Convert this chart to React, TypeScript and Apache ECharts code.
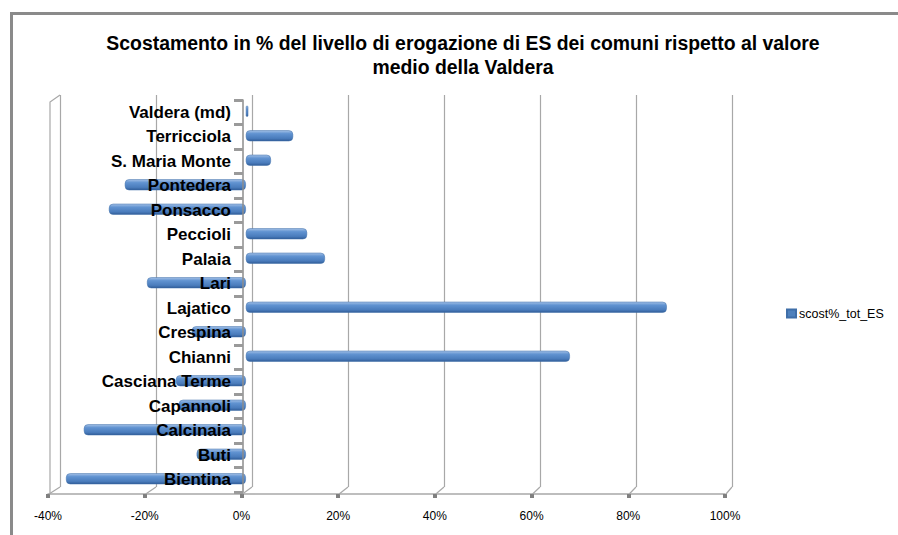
import React, { useEffect, useRef } from "react";
import * as echarts from "echarts";

const categories = [
  "Bientina",
  "Buti",
  "Calcinaia",
  "Capannoli",
  "Casciana Terme",
  "Chianni",
  "Crespina",
  "Lajatico",
  "Lari",
  "Palaia",
  "Peccioli",
  "Ponsacco",
  "Pontedera",
  "S. Maria Monte",
  "Terricciola",
  "Valdera (md)",
];

const scostValues = [
  -37.3, -10.2, -33.6, -13.9, -14.5, 67.2, -11.2, 87.3, -20.5, 16.4, 12.7, -28.4,
  -25.1, 5.2, 9.8, 0.5,
];

const seriesName = "scost%_tot_ES";
const axisTicks = [-40, -20, 0, 20, 40, 60, 80, 100];
const titleText =
  "Scostamento in % del livello di erogazione di ES dei comuni rispetto al valore\nmedio della Valdera";

const FONT = "'Liberation Sans', Arial, Helvetica, sans-serif";

export default function App() {
  const ref = useRef<HTMLDivElement>(null);

  useEffect(() => {
    if (!ref.current) return;
    const chart = echarts.init(ref.current, undefined, { renderer: "svg" });

    const barGradient = new echarts.graphic.LinearGradient(0, 0, 0, 1, [
      { offset: 0, color: "#a3c0e6" },
      { offset: 0.3, color: "#6193d1" },
      { offset: 0.75, color: "#4a7cbc" },
      { offset: 1, color: "#305c97" },
    ]);

    const gridBase = { containLabel: false, outerBoundsMode: "none" };

    const option: any = {
      animation: false,
      backgroundColor: "#ffffff",
      title: {
        text: titleText,
        left: 458,
        textAlign: "center",
        top: 26,
        textStyle: {
          fontFamily: FONT,
          fontSize: 19.4,
          fontWeight: "bold",
          color: "#000000",
          lineHeight: 24,
        },
      },
      legend: {
        left: 781,
        top: 302,
        orient: "vertical",
        icon: "rect",
        itemWidth: 9,
        itemHeight: 8,
        textStyle: { fontFamily: FONT, fontSize: 12.5, color: "#000000", padding: [0, 0, 0, -2] },
        data: [{ name: seriesName, itemStyle: { color: "#4f81bd" } }],
      },
      grid: [
        // bars
        { ...gridBase, left: 53, right: 170, top: 99, height: 392 },
        // back wall (grid lines)
        { ...gridBase, left: 60, right: 166, top: 95, height: 392 },
        // front floor edge (value axis labels)
        { ...gridBase, left: 48, right: 173, top: 102, height: 392 },
        // category axis at zero
        { ...gridBase, left: 243, right: 555, top: 100, height: 392 },
      ],
      xAxis: [
        { gridIndex: 0, type: "value", min: -40, max: 100, interval: 20, show: false },
        {
          gridIndex: 1,
          type: "value",
          min: -40,
          max: 100,
          interval: 20,
          axisLine: { show: false },
          axisTick: { show: false },
          axisLabel: { show: false },
          splitLine: { show: true, lineStyle: { color: "#a8a8a8", width: 1.2 } },
        },
        {
          gridIndex: 2,
          type: "value",
          min: -40,
          max: 100,
          interval: 20,
          axisLine: { show: true, onZero: false, lineStyle: { color: "#a8a8a8", width: 1.5 } },
          axisTick: { show: true, length: 4, lineStyle: { color: "#808080", width: 4 } },
          axisLabel: {
            show: true,
            margin: 16,
            fontFamily: FONT,
            fontSize: 12,
            color: "#000000",
            formatter: "{value}%",
          },
          splitLine: { show: false },
        },
        { gridIndex: 3, type: "value", min: 0, max: 1, show: false },
      ],
      yAxis: [
        { gridIndex: 0, type: "category", data: categories, show: false },
        { gridIndex: 1, type: "value", show: false },
        { gridIndex: 2, type: "value", show: false },
        {
          gridIndex: 3,
          type: "category",
          data: categories,
          z: 10,
          axisLine: { show: true, onZero: false, lineStyle: { color: "#8c8c8c", width: 1.5 } },
          axisTick: { show: true, length: 9, lineStyle: { color: "#9a9a9a", width: 3 } },
          axisLabel: {
            margin: 12,
            fontFamily: FONT,
            fontSize: 17,
            fontWeight: "bold",
            color: "#000000",
          },
          splitLine: { show: false },
        },
      ],
      series: [
        {
          name: seriesName,
          type: "bar",
          xAxisIndex: 0,
          yAxisIndex: 0,
          data: scostValues,
          barWidth: 11,
          z: 2,
          itemStyle: {
            color: barGradient,
            borderRadius: 4,
            borderColor: "#3f6ea8",
            borderWidth: 0.5,
          },
        },
      ],
    };

    chart.setOption(option);

    // 3D floor / wall decoration derived from the axes' scales
    const backBottom = 487;
    const frontBottom = 494;
    const graphics: any[] = [];
    axisTicks.forEach((v) => {
      const xb = chart.convertToPixel({ xAxisIndex: 1 }, v) as number;
      const xf = chart.convertToPixel({ xAxisIndex: 2 }, v) as number;
      graphics.push({
        type: "line",
        shape: { x1: xb, y1: backBottom, x2: xf + 1, y2: frontBottom },
        style: { stroke: "#a8a8a8", lineWidth: 1.2 },
        silent: true,
        z: 1,
      });
    });
    const xbL = chart.convertToPixel({ xAxisIndex: 1 }, axisTicks[0]) as number;
    const xfL = chart.convertToPixel({ xAxisIndex: 2 }, axisTicks[0]) as number;
    graphics.push({
      type: "polyline",
      shape: {
        points: [
          [xfL + 2, frontBottom],
          [xfL + 2, 102],
          [xbL, 95],
        ],
      },
      style: { stroke: "#a8a8a8", lineWidth: 1.2, fill: null },
      silent: true,
      z: 1,
    });
    // outer chart frame (Excel chart area border)
    graphics.push({
      type: "polyline",
      shape: {
        points: [
          [11.5, 600],
          [11.5, 13.5],
          [1000, 13.5],
        ],
      },
      style: { stroke: "#8a8a8a", lineWidth: 3, fill: null },
      silent: true,
      z: 1,
    });
    chart.setOption({ graphic: graphics });

    return () => {
      chart.dispose();
    };
  }, []);

  return (
    <div
      ref={ref}
      style={{ position: "fixed", left: 0, top: 0, width: 898, height: 535, background: "#fff" }}
    />
  );
}
